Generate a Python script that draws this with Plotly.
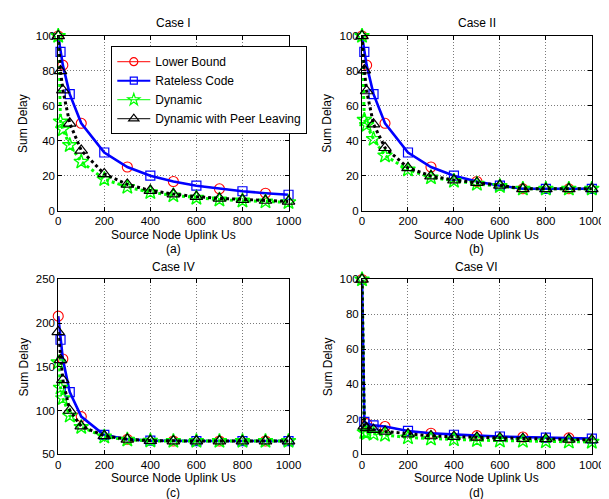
import plotly.graph_objects as go

# ---------------- data ----------------
x_vals = [0, 10, 20, 50, 100, 200, 300, 400, 500, 600, 700, 800, 900, 1000]

# Case I
lower_1 = [100, 90.9, 83.3, 66.7, 50, 33.3, 25, 20, 16.7, 14.3, 12.5, 11.1, 10, 9.1]
rateless_1 = [100, 90.9, 83.3, 66.7, 50, 33.3, 25, 20, 16.7, 14.3, 12.5, 11.1, 10, 9.1]
dynamic_1 = [100, 51, 46.5, 37.5, 28, 18, 13.5, 10.5, 8.7, 7.3, 6.3, 5.7, 5.2, 4.8]
peer_1 = [100, 80, 69, 50, 34.5, 21, 15, 11.5, 9.5, 8, 7, 6.3, 5.8, 5.3]

# Case II
lower_2 = [100, 90.9, 83.3, 66.7, 50, 33.3, 25, 20, 16.7, 14.3, 12.5, 12.5, 12.5, 12.5]
rateless_2 = [100, 90.9, 83.3, 66.7, 50, 33.3, 25, 20, 16.7, 14.3, 12.5, 12.5, 12.5, 12.5]
dynamic_2 = [100, 52, 49, 41, 31.5, 23.5, 19, 17, 15.3, 14, 12.5, 12.5, 12.5, 12.5]
peer_2 = [100, 80.5, 68.5, 49.5, 36, 24.5, 19.8, 17.5, 16, 14.5, 12.5, 12.5, 12.5, 12.5]

# Case IV
lower_4 = [208, 181, 159, 121, 93, 72, 67, 65.5, 65, 65, 65, 65, 65, 65]
rateless_4 = [208, 181, 159, 121, 93, 72, 67, 65.5, 65, 65, 65, 65, 65, 65]
dynamic_4 = [155, 126, 114, 94, 81, 70, 66.5, 65.3, 65, 65, 65, 65, 65, 65]
peer_4 = [190, 158, 135, 100, 82, 71, 67, 65.5, 65, 65, 65, 65, 65, 65]

# Case VI
lower_6 = [100, 18.5, 17.5, 16.5, 15.8, 13.3, 12, 11.1, 10.6, 10.1, 9.8, 9.5, 9.3, 8.9]
rateless_6 = [100, 18.5, 17.5, 16.5, 15.8, 13.3, 12, 11.1, 10.6, 10.1, 9.8, 9.5, 9.3, 8.9]
dynamic_6 = [100, 12.5, 12, 11.5, 11, 9.5, 8.8, 8.4, 8, 7.7, 7.5, 7.3, 7.1, 7]
peer_6 = [100, 16, 15, 14, 13, 11.5, 10.4, 10, 9.6, 9.3, 8.9, 8.7, 8.5, 8.1]

case_titles = ["Case I", "Case II", "Case IV", "Case VI"]
sub_labels = ["(a)", "(b)", "(c)", "(d)"]
series_names = ["Lower Bound", "Rateless Code", "Dynamic", "Dynamic with Peer Leaving"]
x_tick_vals = [0, 200, 400, 600, 800, 1000]
y_ticks_std = [0, 20, 40, 60, 80, 100]
y_ticks_iv = [50, 100, 150, 200, 250]
x_title = "Source Node Uplink Us"
y_title = "Sum Delay"

cases = [
    (lower_1, rateless_1, dynamic_1, peer_1, [0, 100], y_ticks_std),
    (lower_2, rateless_2, dynamic_2, peer_2, [0, 100], y_ticks_std),
    (lower_4, rateless_4, dynamic_4, peer_4, [50, 250], y_ticks_iv),
    (lower_6, rateless_6, dynamic_6, peer_6, [0, 100], y_ticks_std),
]

# ---------------- layout geometry ----------------
W, H = 609, 499
FONT = "Liberation Sans, Arial, Helvetica, sans-serif"
boxes = [(48.5, 22.5, 285, 201.5), (360.5, 22.5, 596.5, 201.5),
         (48.5, 272, 285, 451), (360.5, 272, 596.5, 451)]
ytitle_x = [13, 325, 13, 325]
xtitle_off = 24.5
sublabel_off = 39.5

RED, BLUE, GREEN, BLACK = "#ff0000", "#0000ff", "#00ff00", "#000000"

styles = [
    dict(color=RED, lw=1.2, dash="solid", sym="circle-open", ms=10, mlw=1.1, every=(0, 2)),
    dict(color=BLUE, lw=2.6, dash="solid", sym="square-open", ms=9, mlw=1.2, every=(1, 2)),
    dict(color=GREEN, lw=3, dash="dot", sym="star-open", ms=11, mlw=1.4, every=(0, 1)),
    dict(color=BLACK, lw=3, dash="dot", sym="triangle-up-open", ms=11, mlw=1.2, every=(0, 1)),
]
legend_lw = [1, 2, 1, 1]
legend_ms = [8, 7, 9, 9]

fig = go.Figure()
layout = dict(
    width=W, height=H, margin=dict(l=0, r=0, t=0, b=0),
    paper_bgcolor="white", plot_bgcolor="white",
    font=dict(family=FONT, size=12, color="black"),
    showlegend=True,
    legend=dict(x=103 / W, y=1 - 33 / H, xanchor="left", yanchor="top",
                bgcolor="white", bordercolor="black", borderwidth=1,
                font=dict(size=12, family=FONT, color="black"),
                itemwidth=33, tracegroupgap=0),
)
annotations = []

for i, (l, t, r, b) in enumerate(boxes):
    sfx = "" if i == 0 else str(i + 1)
    xa, ya = "x" + sfx, "y" + sfx
    data = cases[i]
    yr, yt = data[4], data[5]
    for k in range(4):
        st = styles[k]
        vals = data[k]
        fig.add_trace(go.Scatter(
            x=x_vals, y=vals, mode="lines", xaxis=xa, yaxis=ya, showlegend=False,
            line=dict(color=st["color"], width=st["lw"], dash=st["dash"]),
            hoverinfo="skip"))
        s0, step = st["every"]
        fig.add_trace(go.Scatter(
            x=x_vals[s0::step], y=vals[s0::step], mode="markers", xaxis=xa, yaxis=ya,
            showlegend=False, cliponaxis=False,
            marker=dict(symbol=st["sym"], size=st["ms"], color=st["color"],
                        line=dict(color=st["color"], width=st["mlw"]))))
    axis_common = dict(showline=True, linecolor="black", linewidth=1, mirror="ticks",
                       ticks="inside", ticklen=4, tickcolor="black", tickwidth=1,
                       showgrid=True, gridcolor="#7a7a7a", gridwidth=1, griddash="1px,2px",
                       zeroline=False, tickfont=dict(size=11.5, family=FONT, color="black"))
    layout["xaxis" + sfx] = dict(domain=[l / W, r / W], range=[0, 1000], tickvals=x_tick_vals,
                                 anchor=ya, **axis_common)
    layout["yaxis" + sfx] = dict(domain=[1 - b / H, 1 - t / H], range=yr, tickvals=yt,
                                 anchor=xa, **axis_common)
    cx = (l + r) / 2
    annotations.append(dict(text=case_titles[i], x=cx / W, y=1 - (t - 13) / H, xref="paper",
                            yref="paper", showarrow=False, xanchor="center", yanchor="middle",
                            font=dict(size=12)))
    annotations.append(dict(text=x_title, x=cx / W, y=1 - (b + xtitle_off) / H, xref="paper",
                            yref="paper", showarrow=False, xanchor="center", yanchor="middle",
                            borderpad=0, font=dict(size=12)))
    annotations.append(dict(text=sub_labels[i], x=cx / W, y=1 - (b + sublabel_off) / H,
                            xref="paper", yref="paper", showarrow=False, xanchor="center",
                            yanchor="middle", borderpad=0, font=dict(size=12)))
    annotations.append(dict(text=y_title, x=ytitle_x[i] / W, y=1 - ((t + b) / 2) / H,
                            xref="paper", yref="paper", showarrow=False, textangle=-90,
                            xanchor="center", yanchor="middle", font=dict(size=12)))

# legend proxies
for k in range(4):
    st = styles[k]
    fig.add_trace(go.Scatter(
        x=[None], y=[None], mode="lines+markers", name=series_names[k],
        xaxis="x", yaxis="y",
        line=dict(color=st["color"], width=legend_lw[k], dash="solid"),
        marker=dict(symbol=st["sym"], size=legend_ms[k], color=st["color"],
                    line=dict(color=st["color"], width=1.2))))

layout["annotations"] = annotations
fig.update_layout(**layout)
fig.write_html("out.html")
